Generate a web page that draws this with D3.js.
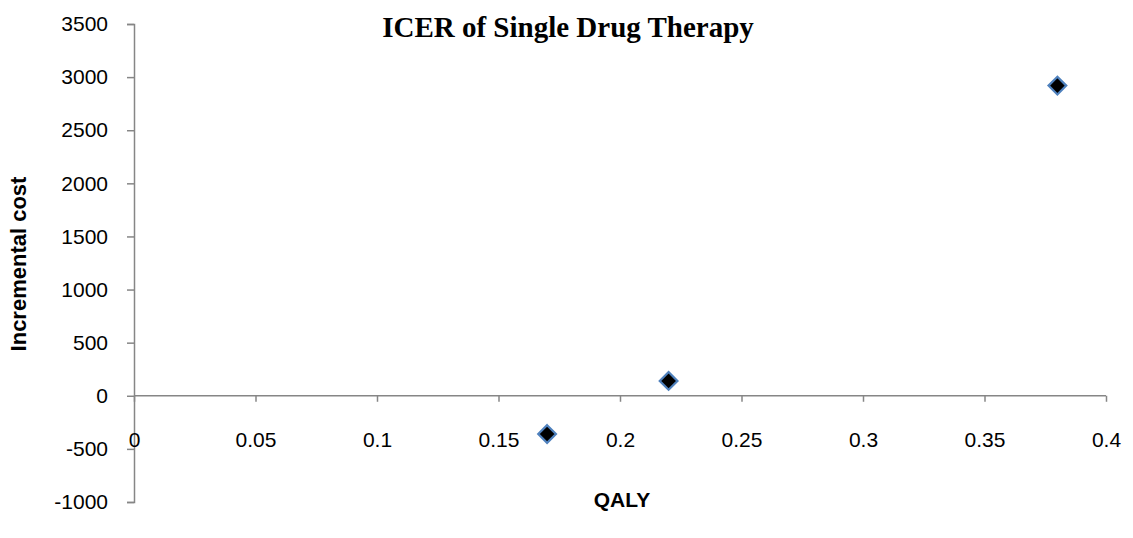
<!DOCTYPE html>
<html>
<head>
<meta charset="utf-8">
<script src="https://cdn.jsdelivr.net/npm/d3@7"></script>
<style>
  body { margin: 0; background: #fff; }
  .axis path, .axis line { stroke: #868686; stroke-width: 1.5px; }
</style>
</head>
<body>
<svg class="root"></svg>
<script>
var qaly = [0.17, 0.22, 0.38];
var cost = [-360, 140, 2920];
var xTicks = [0, 0.05, 0.1, 0.15, 0.2, 0.25, 0.3, 0.35, 0.4];
var yTicks = [-1000, -500, 0, 500, 1000, 1500, 2000, 2500, 3000, 3500];

var width = 1133, height = 538;
var svg = d3.select(".root").attr("width", width).attr("height", height);

var x = d3.scaleLinear().domain([0, 0.4]).range([134, 1106]);
var y = d3.scaleLinear().domain([-1000, 3500]).range([502, 24]);

// y axis
var yg = svg.append("g")
    .attr("class", "axis")
    .attr("transform", "translate(" + x(0) + ",0)")
    .call(d3.axisLeft(y).tickValues(yTicks).tickSize(7).tickSizeOuter(7).tickPadding(19)
      .tickFormat(function (d) { return String(d); }));

// x axis sits at y = 0, labels pushed down
var xg = svg.append("g")
    .attr("class", "axis")
    .attr("transform", "translate(0," + y(0) + ")")
    .call(d3.axisBottom(x).tickValues(xTicks).tickSize(6).tickSizeOuter(0).tickPadding(30)
      .tickFormat(function (d) { return String(d); }));
xg.select(".domain").attr("d", "M" + x(0) + ",0H" + x(0.4));

svg.selectAll(".axis text")
    .style("font-family", "'Liberation Sans', Arial, sans-serif")
    .style("font-size", "21px")
    .style("fill", "#000");

// points
var pts = qaly.map(function (d, i) { return [d, cost[i]]; });
svg.selectAll(".pt")
    .data(pts)
  .enter().append("path")
    .attr("class", "pt")
    .attr("d", d3.symbol().type(d3.symbolDiamond2).size(200))
    .attr("transform", function (d) { return "translate(" + x(d[0]) + "," + y(d[1]) + ")"; })
    .attr("fill", "#000")
    .attr("stroke", "#4f81bd")
    .attr("stroke-width", 2.2);

svg.append("text")
    .attr("x", 568).attr("y", 37)
    .attr("text-anchor", "middle")
    .style("font-family", "'Liberation Serif', 'Times New Roman', serif")
    .style("font-weight", "bold")
    .style("font-size", "29px")
    .text("ICER of Single Drug Therapy");

svg.append("text")
    .attr("transform", "translate(26,264) rotate(-90)")
    .attr("text-anchor", "middle")
    .style("font-family", "'Liberation Sans', Arial, sans-serif")
    .style("font-weight", "bold")
    .style("font-size", "22px")
    .text("Incremental cost");

svg.append("text")
    .attr("x", 622).attr("y", 507)
    .attr("text-anchor", "middle")
    .style("font-family", "'Liberation Sans', Arial, sans-serif")
    .style("font-weight", "bold")
    .style("font-size", "21px")
    .text("QALY");
</script>
</body>
</html>
